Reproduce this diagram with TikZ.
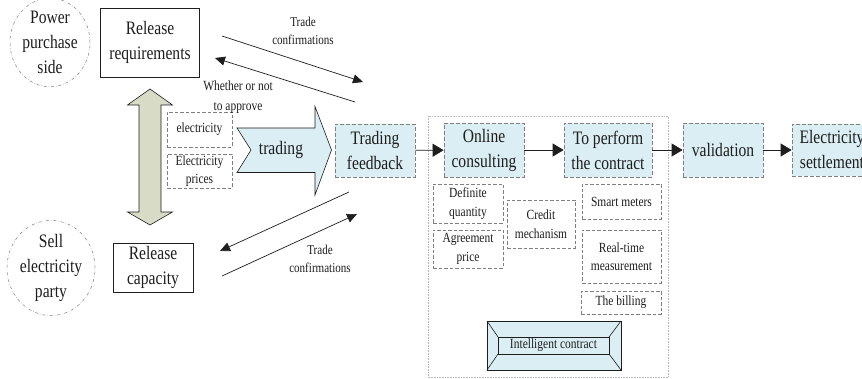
\documentclass[tikz,border=0pt]{standalone}
\usepackage{fontspec}
\setmainfont{Liberation Serif}[FakeStretch=0.82]
\usetikzlibrary{arrows.meta,shapes.geometric}
\definecolor{boxblue}{HTML}{DAEEF3}
\definecolor{olivefill}{HTML}{D8DCC6}
\definecolor{edgegray}{HTML}{7F7F7F}
\definecolor{inkgray}{HTML}{1E1E1E}
\tikzset{
  big/.style={font=\fontsize{19}{25}\selectfont, text=inkgray, align=center},
  small/.style={font=\fontsize{14}{18.5}\selectfont, text=inkgray, align=center},
  party/.style={ellipse, draw=edgegray, dash dot, line width=0.5pt, inner sep=0pt, big},
  solidbox/.style={draw=inkgray, line width=0.9pt, inner sep=0pt, big},
  stagebox/.style={draw=edgegray, fill=boxblue, dash pattern=on 4pt off 2pt, line width=0.8pt,
                   inner sep=0pt, big, minimum width=80pt, minimum height=54pt},
  notebox/.style={draw=edgegray, dash pattern=on 3.5pt off 2pt, line width=0.6pt, inner sep=0pt, small},
  flow/.style={draw=inkgray, line width=0.8pt, -{Triangle[length=11pt,width=13pt]}},
  msg/.style={draw=inkgray, line width=0.7pt, -{Triangle[length=10pt,width=9pt]}},
  lbl/.style={font=\fontsize{13.5}{18}\selectfont, text=inkgray, align=center, inner sep=0pt}
}
\begin{document}
\begin{tikzpicture}[x=1pt, y=-1pt]
\clip (0,0) rectangle (862,379);
\fill[white] (0,0) rectangle (862,379);

% market parties
\node[party, minimum width=80pt, minimum height=76pt] (buyer) at (50,42.5) {Power\\purchase\\side};
\node[party, minimum width=78pt, minimum height=82pt] (seller) at (51,268) {Sell\\electricity\\party};

% what each party publishes
\node[solidbox, minimum width=99pt, minimum height=69pt] (req) at (150,42.5) {Release\\requirements};
\node[solidbox, minimum width=80pt, minimum height=49pt] (cap) at (153,267.5) {Release\\capacity};

% two-way link between the parties
\fill[olivefill, draw=inkgray, line width=0.6pt]
  (150,89) -- (172.5,105) -- (161,105) -- (161,212) -- (172.5,212) -- (150,225)
  -- (127.5,212) -- (139,212) -- (139,105) -- (127.5,105) -- cycle;

% trade inputs
\node[notebox, minimum width=65pt, minimum height=35pt] (qty) at (199.5,129.5) {electricity};
\node[notebox, minimum width=65pt, minimum height=34pt] (price) at (199.5,171) {Electricity\\prices};

% trading arrow
\filldraw[fill=boxblue, draw=inkgray, line width=0.6pt]
  (237,128) -- (315,128) -- (315,106.5) -- (331.5,150) -- (315,195) -- (315,172.5)
  -- (237,172.5) -- (251,150) -- cycle;
\node[big, inner sep=0pt] (trading) at (281,150) {trading};

% process chain
\node[stagebox, minimum height=53pt] (fb) at (375,150.5) {Trading\\feedback};
\draw[gray!55, densely dotted, line width=0.6pt] (428,116) rectangle (668,377.5);
\node[stagebox] (online) at (484,150) {Online\\consulting};
\node[stagebox, minimum width=88pt] (perform) at (608,150) {To perform\\the contract};
\node[stagebox] (valid) at (723,150) {validation};
\node[stagebox, minimum height=52pt] (settle) at (832,150) {Electricity\\settlement};

\draw[flow] (fb) -- (online);
\draw[flow] (online) -- (perform);
\draw[flow] (perform) -- (valid);
\draw[flow] (valid) -- (settle);

% contract terms
\node[notebox, minimum width=70pt, minimum height=39pt] (defq) at (468,203.5) {Definite\\quantity};
\node[notebox, minimum width=70pt, minimum height=38pt] (agree) at (468,249) {Agreement\\price};
\node[notebox, minimum width=68pt, minimum height=48pt] (credit) at (541,224) {Credit\\mechanism};
\node[notebox, minimum width=79pt, minimum height=35pt] (smart) at (621.5,201.5) {Smart meters};
\node[notebox, minimum width=79pt, minimum height=53pt] (rtm) at (621.5,256.5) {Real-time\\measurement};
\node[notebox, minimum width=80pt, minimum height=23pt] (bill) at (621,302.5) {The billing};

% bevelled plate
\filldraw[fill=boxblue, draw=inkgray, line width=0.9pt] (487,321) rectangle (621,370);
\filldraw[fill=boxblue, draw=inkgray, line width=0.9pt] (498,337) rectangle (609,354);
\draw[inkgray, line width=0.6pt] (487,321) -- (498,337) (621,321) -- (609,337)
  (487,370) -- (498,354) (621,370) -- (609,354);
\node[small, inner sep=0pt] (smart contract) at (553.5,345.5) {Intelligent contract};

% messages between parties and the platform
\coordinate (c1a) at (222,36);  \coordinate (c1b) at (363,82);
\coordinate (c2a) at (355,102); \coordinate (c2b) at (215,58);
\coordinate (c3a) at (349,192); \coordinate (c3b) at (220,251);
\coordinate (c4a) at (222,276); \coordinate (c4b) at (357,214);
\draw[msg] (c1a) -- (c1b);
\draw[msg] (c2a) -- (c2b);
\draw[msg] (c3a) -- (c3b);
\draw[msg] (c4a) -- (c4b);
\node[lbl] (tc1) at (303,31) {Trade\\confirmations};
\node[lbl, font=\fontsize{14}{20}\selectfont] (appr) at (238,97) {Whether or not\\to approve};
\node[lbl] (tc2) at (320,259) {Trade\\confirmations};
\end{tikzpicture}
\end{document}
